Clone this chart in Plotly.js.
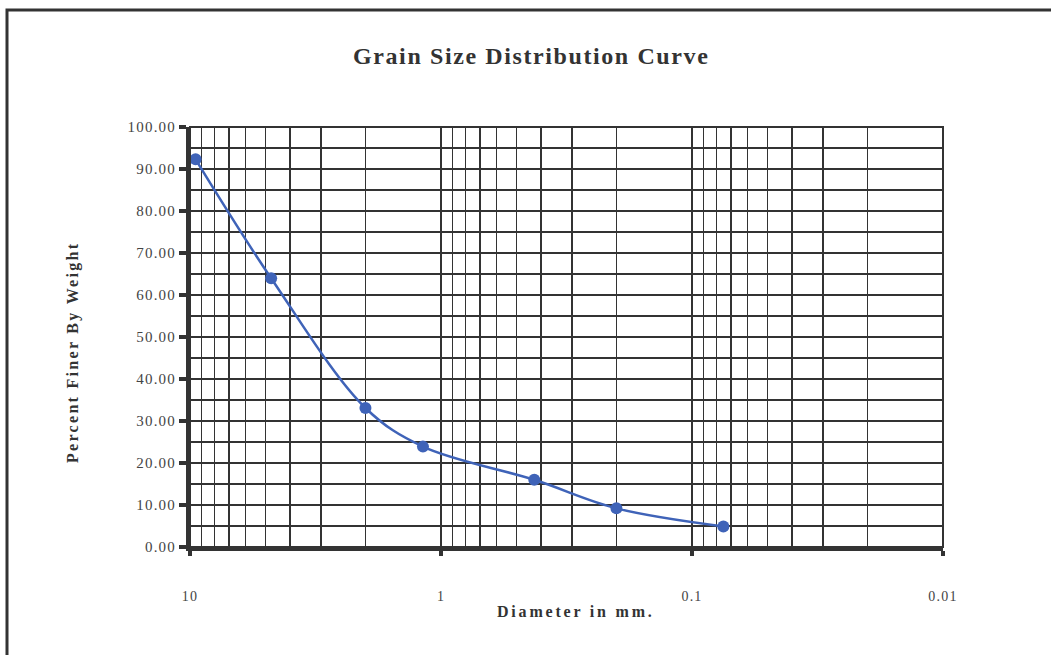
<!DOCTYPE html>
<html>
<head>
<meta charset="utf-8">
<script src="https://cdn.plot.ly/plotly-3.0.1.min.js"></script>
<style>
html,body{margin:0;padding:0;background:#fff;}
#chart{width:1051px;height:655px;}
.xtick text, .ytick text{letter-spacing:1.2px;}
</style>
</head>
<body>
<div id="chart"></div>
<script>
// Data
const diameterMm = [9.5, 4.75, 2.0, 1.18, 0.425, 0.2, 0.075];
const percentFiner = [92.3, 64.0, 33.1, 23.9, 16.0, 9.2, 4.9];
const xTickVals = [10, 1, 0.1, 0.01];
const xTickText = ['10', '1', '0.1', '0.01'];
const chartTitle = 'Grain Size Distribution Curve';
const xTitle = 'Diameter in mm.';
const yTitle = 'Percent Finer By Weight';

const serif = 'Liberation Serif, Times New Roman, serif';
const ink = '#333333';
const blue = '#3f63b8';

const trace = {
  x: diameterMm,
  y: percentFiner,
  type: 'scatter',
  mode: 'lines+markers',
  line: {color: blue, width: 2.5, shape: 'spline', smoothing: 1},
  marker: {color: blue, size: 12},
  cliponaxis: false,
  hoverinfo: 'x+y'
};

const W = 1051, H = 655;
const mL = 190, mR = W - 943, mT = 127, mB = H - 547;
const pw = W - mL - mR, ph = H - mT - mB;
const px = v => (v - mL) / pw;
const py = v => (H - mB - v) / ph;
const spaced = (t, s) => '<span style="letter-spacing:' + s + 'px">' + t + '</span>';

const layout = {
  width: W, height: H,
  margin: {l: mL, r: mR, t: mT, b: mB, pad: 0},
  paper_bgcolor: '#ffffff',
  plot_bgcolor: '#ffffff',
  showlegend: false,
  font: {family: serif, color: ink},
  xaxis: {
    type: 'log',
    range: [1, -2],
    tickmode: 'array',
    tickvals: xTickVals,
    ticktext: xTickText,
    ticks: 'outside', ticklen: 5, tickwidth: 4, tickcolor: ink,
    ticklabelstandoff: 28,
    tickfont: {family: serif, size: 14, color: '#444'},
    showline: true, linecolor: ink, linewidth: 4,
    showgrid: true, gridcolor: ink, gridwidth: 1.5,
    minor: {dtick: 'D1', showgrid: true, gridcolor: ink, gridwidth: 1.5, ticks: ''},
    zeroline: false,
    fixedrange: true
  },
  yaxis: {
    range: [0, 100],
    dtick: 10,
    tickformat: '.2f',
    ticks: 'outside', ticklen: 7, tickwidth: 4, tickcolor: ink,
    ticklabelstandoff: 0,
    tickfont: {family: serif, size: 15, color: '#444'},
    showline: true, linecolor: ink, linewidth: 4,
    showgrid: true, gridcolor: ink, gridwidth: 1.5,
    minor: {dtick: 5, showgrid: true, gridcolor: ink, gridwidth: 1.5, ticks: 'inside', ticklen: 5, tickwidth: 2, tickcolor: ink},
    zeroline: false,
    fixedrange: true
  },
  shapes: [
    {type: 'rect', xref: 'paper', yref: 'paper', x0: 0, x1: 1, y0: 0, y1: 1,
     line: {color: ink, width: 2}, layer: 'above'},
    {type: 'rect', xref: 'paper', yref: 'paper', x0: px(7), x1: px(1120), y0: py(10), y1: py(720),
     line: {color: ink, width: 3}}
  ],
  annotations: [
    {text: '<b>' + spaced(chartTitle, 1.6) + '</b>', xref: 'paper', yref: 'paper', x: px(531), y: py(56),
     showarrow: false, xanchor: 'center', yanchor: 'middle', font: {family: serif, size: 24, color: ink}},
    {text: '<b>' + spaced(yTitle, 2.3) + '</b>', xref: 'paper', yref: 'paper', x: px(73), y: py(353),
     showarrow: false, textangle: -90, xanchor: 'center', yanchor: 'middle', font: {family: serif, size: 16, color: ink}},
    {text: '<b>' + spaced(xTitle, 2.8) + '</b>', xref: 'paper', yref: 'paper', x: px(576), y: py(611),
     showarrow: false, xanchor: 'center', yanchor: 'middle', font: {family: serif, size: 16, color: ink}}
  ]
};

Plotly.newPlot('chart', [trace], layout, {displayModeBar: false, staticPlot: true});
</script>
</body>
</html>
